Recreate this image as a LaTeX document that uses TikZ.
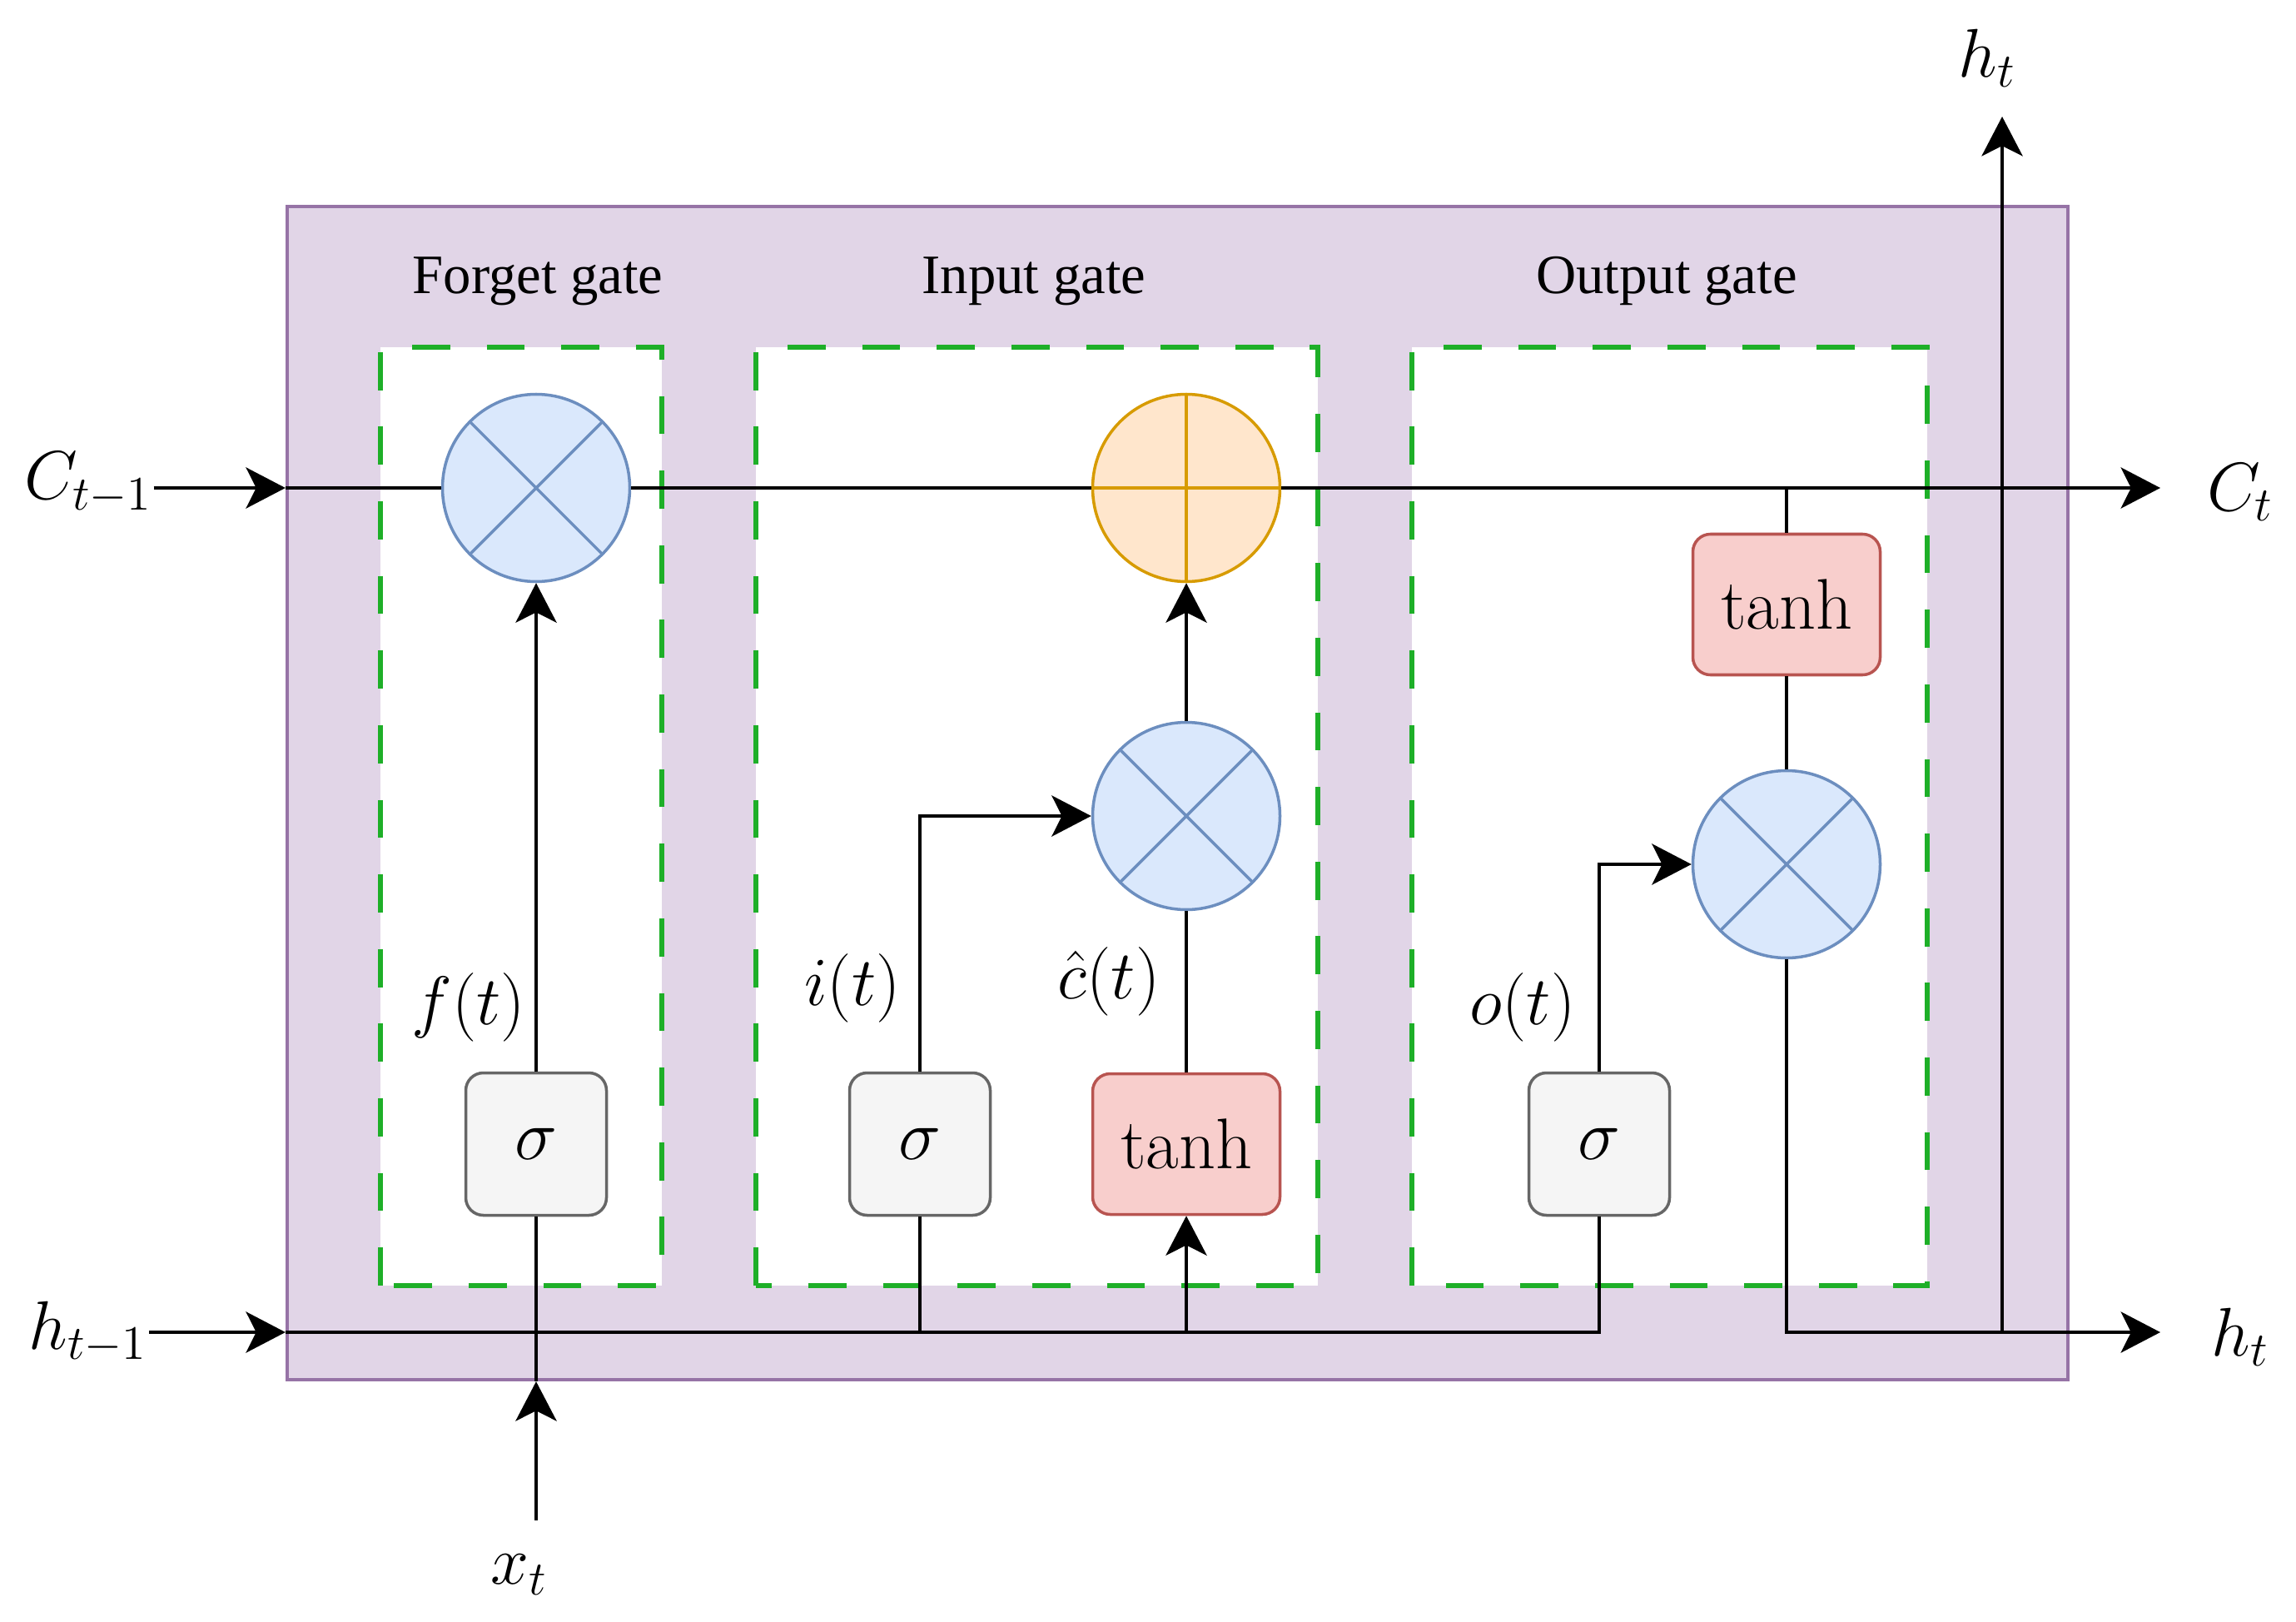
\documentclass[tikz,border=0pt]{standalone}
\usepackage{fix-cm}
\usepackage{fontspec}
\newfontfamily\gatefont{Liberation Serif}
\usetikzlibrary{arrows.meta, positioning}
\definecolor{cellfill}{HTML}{E1D5E7}
\definecolor{cellline}{HTML}{9673A6}
\definecolor{gatedash}{RGB}{30,175,40}
\definecolor{mulfill}{HTML}{DAE8FC}
\definecolor{mulline}{HTML}{6C8EBF}
\definecolor{addfill}{HTML}{FFE6CC}
\definecolor{addline}{HTML}{D79B00}
\definecolor{tanhfill}{HTML}{F8CECC}
\definecolor{tanhline}{HTML}{B85450}
\definecolor{sigfill}{HTML}{F5F5F5}
\definecolor{sigline}{HTML}{666666}

\begin{document}
\begin{tikzpicture}[>={Stealth[length=13.5pt,width=14pt,inset=3.5pt]}, line width=1.15pt,
  cell/.style={draw=cellline, fill=cellfill, line width=1.2pt, inner sep=0pt},
  gatebox/.style={draw=gatedash, fill=white, line width=1.6pt, dash pattern=on 13pt off 12.5pt},
  mulop/.style={circle, draw=mulline, fill=mulfill, line width=1pt, minimum size=2.25cm, inner sep=0pt,
    path picture={\draw[mulline, line width=1pt] (path picture bounding box.north west) -- (path picture bounding box.south east)
      (path picture bounding box.north east) -- (path picture bounding box.south west);}},
  addop/.style={circle, draw=addline, fill=addfill, line width=1pt, minimum size=2.25cm, inner sep=0pt,
    path picture={\draw[addline, line width=1pt] (path picture bounding box.north) -- (path picture bounding box.south)
      (path picture bounding box.west) -- (path picture bounding box.east);}},
  sigbox/.style={draw=sigline, fill=sigfill, line width=1pt, rounded corners=6pt, minimum width=1.69cm,
    minimum height=1.71cm, inner sep=0pt, font=\fontsize{24.5}{28}\selectfont},
  tanhbox/.style={draw=tanhline, fill=tanhfill, line width=1pt, rounded corners=6pt, minimum width=2.25cm,
    minimum height=1.69cm, inner sep=0pt, font=\fontsize{24.5}{28}\selectfont},
  lbl/.style={font=\fontsize{23.5}{28}\selectfont, inner sep=0pt},
  ttl/.style={font=\gatefont\fontsize{19}{23}\selectfont}]
  \useasboundingbox (0,0) rectangle (27.58,19.47);
  % cell and gate frames
  \node[cell, minimum width=21.39cm, minimum height=14.09cm] (cell) at (14.145,9.945) {};
  \draw[gatebox] (4.57,4.03) rectangle (7.95,15.30);
  \draw[gatebox] (9.08,4.03) rectangle (15.83,15.30);
  \draw[gatebox] (16.96,4.03) rectangle (23.15,15.30);
  \node[ttl] (fgttl) at (6.46,16.09) {Forget gate};
  \node[ttl] (inttl) at (12.42,16.09) {Input gate};
  \node[ttl] (outttl) at (20.02,16.09) {Output gate};
  % operators
  \node[mulop] (fgmul) at (6.44,13.61) {};
  \node[addop] (plus) at (14.25,13.61) {};
  \node[mulop] (inmul) at (14.25,9.67) {};
  \node[mulop] (outmul) at (21.46,9.09) {};
  \node[tanhbox] (outtanh) at (21.46,12.21) {tanh};
  \node[tanhbox] (intanh) at (14.25,5.73) {tanh};
  \node[sigbox] (fgsig) at (6.44,5.73) {$\sigma$};
  \node[sigbox] (insig) at (11.05,5.73) {$\sigma$};
  \node[sigbox] (outsig) at (19.21,5.73) {$\sigma$};
  % outer labels
  \node[lbl] (cprev) at (1.06,13.67) {$C_{t-1}$};
  \node[lbl] (cnext) at (26.91,13.56) {$C_t$};
  \node[lbl] (hprev) at (1.06,3.47) {$h_{t-1}$};
  \node[lbl] (hnext) at (26.91,3.41) {$h_t$};
  \node[lbl] (hup) at (23.87,18.77) {$h_t$};
  \node[lbl] (xt) at (6.24,0.56) {$x_t$};
  \node[lbl] (ft) at (5.63,7.37) {$f(t)$};
  \node[lbl] (it) at (10.24,7.60) {$i(t)$};
  \node[lbl] (ct) at (13.32,7.68) {$\hat{c}(t)$};
  \node[lbl] (ot) at (18.29,7.37) {$o(t)$};
  \coordinate (hrow) at (0,3.47);
  \coordinate (cend) at (25.95,13.61);
  \coordinate (hend) at (25.95,3.47);
  \coordinate (htip) at (24.05,18.07);
  \coordinate (xin) at (6.44,1.21);
  % cell state
  \draw[->] (cprev.east |- fgmul) -- (cell.west |- fgmul);
  \draw (cell.west |- fgmul) -- (fgmul.west);
  \draw (fgmul.east) -- (plus.west);
  \draw[->] (plus.east) -- (cend);
  % hidden state and input
  \draw[->] (hprev.east |- hrow) -- (cell.west |- hrow);
  \draw (cell.west |- hrow) -| (outsig.south);
  \draw (insig.south) -- (insig |- hrow);
  \draw[->] (intanh |- hrow) -- (intanh.south);
  \draw[->] (xin) -- (xin |- cell.south);
  \draw (xin |- cell.south) -- (fgsig.south);
  % forget gate
  \draw[->] (fgsig.north) -- (fgmul.south);
  % input gate
  \draw[->] (insig.north) |- (inmul.west);
  \draw (intanh.north) -- (inmul.south);
  \draw[->] (inmul.north) -- (plus.south);
  % output gate
  \draw (outtanh |- plus) -- (outtanh.north);
  \draw (outtanh.south) -- (outmul.north);
  \draw[->] (outsig.north) |- (outmul.west);
  \draw[->] (outmul.south) |- (hend);
  \draw[->] (htip |- hrow) -- (htip);
\end{tikzpicture}
\end{document}
